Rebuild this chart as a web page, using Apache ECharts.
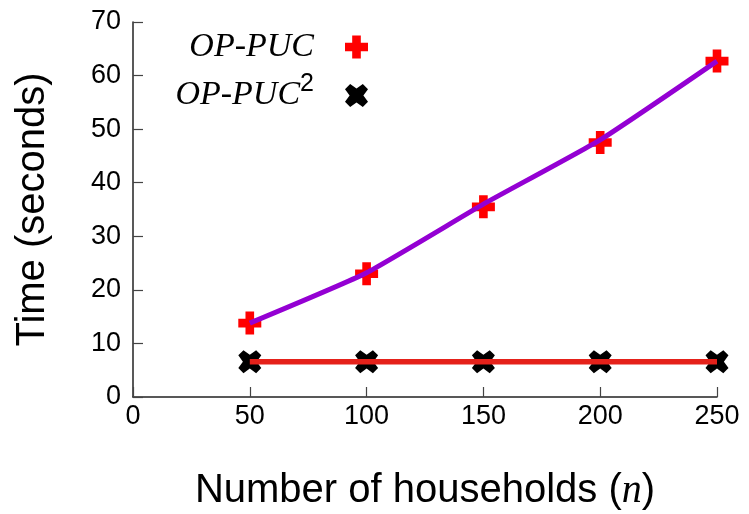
<!DOCTYPE html>
<html>
<head>
<meta charset="utf-8">
<script src="https://cdn.jsdelivr.net/npm/echarts@6/dist/echarts.min.js"></script>
<style>html,body{margin:0;padding:0;background:#fff}#c{width:749px;height:514px}</style>
</head>
<body>
<div id="c"></div>
<script>
const households = [50, 100, 150, 200, 250];
const pucTimes = [13.8, 23.0, 35.5, 47.5, 62.7];
const puc2Times = [6.6, 6.6, 6.6, 6.6, 6.6];
const pucFit = [13.8, 23.2, 36.0, 48.0, 62.7];
const puc2Fit = [6.6, 6.6, 6.6, 6.6, 6.6];
const xTicks = [0, 50, 100, 150, 200, 250];
const yTicks = [0, 10, 20, 30, 40, 50, 60, 70];

const pair = (ys) => households.map((x, i) => [x, ys[i]]);
const plusPath = 'path://M-1.5,-4H1.5V-1.5H4V1.5H1.5V4H-1.5V1.5H-4V-1.5H-1.5Z';
const crossPath = 'path://M-10,-5.5L-5.5,-10L0,-6L5.5,-10L10,-5.5L6,0L10,5.5L5.5,10L0,6L-5.5,10L-10,5.5L-6,0Z';
const serif = 'Liberation Serif';
const sans = 'Liberation Sans';

const legendRich = {
  a: {fontFamily: serif, fontStyle: 'italic', fontSize: 34, color: '#000'},
  b: {fontFamily: sans, fontSize: 25, color: '#000', padding: [0, 0, 22, 0]}
};

const chart = echarts.init(document.getElementById('c'), null, {renderer: 'canvas'});
chart.setOption({
  animation: false,
  backgroundColor: '#fff',
  grid: {left: 133, right: 32, top: 22, bottom: 117, containLabel: false, outerBoundsMode: 'none'},
  legend: [
    {data: ['OP-PUC'], right: 376, top: 25, orient: 'vertical', align: 'right',
     itemWidth: 23, itemHeight: 23, selectedMode: false,
     textStyle: {rich: legendRich, padding: [0, 26, 0, 0]},
     formatter: () => '{a|OP-PUC}'},
    {data: ['OP-PUC2'], right: 376, top: 67, orient: 'vertical', align: 'right',
     itemWidth: 23, itemHeight: 23, selectedMode: false,
     textStyle: {rich: legendRich, padding: [0, 26, 0, 0]},
     formatter: () => '{a|OP-PUC}{b|2}'}
  ],
  xAxis: {
    type: 'value', min: 0, max: 250, interval: 50,
    name: '{t|Number of households (}{n|n}{t|)}',
    nameLocation: 'middle', nameGap: 74,
    nameTextStyle: {rich: {
      t: {fontFamily: sans, fontSize: 40, color: '#000'},
      n: {fontFamily: serif, fontStyle: 'italic', fontSize: 40, color: '#000'}
    }},
    axisLine: {lineStyle: {color: '#222', width: 1.5}},
    axisTick: {inside: true, length: 10, lineStyle: {color: '#444', width: 1.2}},
    axisLabel: {fontFamily: sans, fontSize: 27, color: '#000', margin: 6,
      formatter: v => xTicks.includes(v) ? String(v) : ''},
    splitLine: {show: false}
  },
  yAxis: {
    type: 'value', min: 0, max: 70, interval: 10,
    name: 'Time (seconds)', nameLocation: 'middle', nameGap: 80,
    nameTextStyle: {fontFamily: sans, fontSize: 40, color: '#000'},
    axisLine: {show: true, lineStyle: {color: '#222', width: 1.5}},
    axisTick: {show: true, inside: true, length: 10, lineStyle: {color: '#444', width: 1.2}},
    axisLabel: {fontFamily: sans, fontSize: 27, color: '#000', margin: 12,
      formatter: v => yTicks.includes(v) ? String(v) : ''},
    splitLine: {show: false}
  },
  series: [
    {name: 'OP-PUC', type: 'scatter', data: pair(pucTimes), symbol: plusPath, symbolSize: 23,
     itemStyle: {color: '#ff0000', opacity: 1}, z: 2},
    {name: 'OP-PUC2', type: 'scatter', data: pair(puc2Times), symbol: crossPath, symbolSize: 23,
     itemStyle: {color: '#000', opacity: 1}, z: 2},
    {name: 'fit1', type: 'line', data: pair(pucFit), smooth: 0.15, showSymbol: false,
     lineStyle: {color: '#9400d3', width: 5}, z: 3},
    {name: 'fit2', type: 'line', data: pair(puc2Fit), showSymbol: false,
     lineStyle: {color: '#e5211a', width: 5.5}, z: 3}
  ]
});
</script>
</body>
</html>
